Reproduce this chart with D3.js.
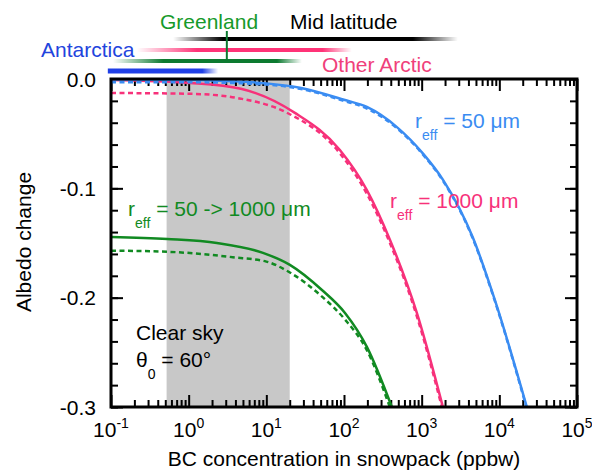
<!DOCTYPE html>
<html>
<head>
<meta charset="utf-8">
<script src="https://d3js.org/d3.v7.min.js"></script>
<style>
  body { margin: 0; background: #fff; }
  text { font-family: "Liberation Sans", Arial, sans-serif; }
</style>
</head>
<body>
<svg id="chart" width="592" height="472"></svg>
<script>

// BC concentration (ppbw) and albedo change
var blueSolidX  = [0.1, 1, 10, 27, 100, 197, 480, 1035, 1875, 4560, 8750, 22600];
var blueSolidY  = [-0.0005, -0.001, -0.004, -0.008, -0.019, -0.0256, -0.044, -0.068, -0.092, -0.145, -0.202, -0.3];
var blueDashX   = [0.1, 1, 10, 27, 100, 197, 480, 1035, 1875, 4560, 8750, 22300];
var blueDashY   = [-0.003, -0.003, -0.005, -0.009, -0.020, -0.027, -0.045, -0.069, -0.093, -0.146, -0.203, -0.3];

var pinkSolidX  = [0.1, 1.04, 4.7, 23.3, 88.5, 197, 390, 867, 1875];
var pinkSolidY  = [-0.001, -0.0037, -0.009, -0.031, -0.065, -0.1016, -0.147, -0.214, -0.3];
var pinkDashX   = [0.1, 1, 3.2, 4.7, 17.4, 88.5, 197, 390, 867, 1820];
var pinkDashY   = [-0.0128, -0.0135, -0.016, -0.018, -0.030, -0.068, -0.105, -0.150, -0.217, -0.3];

var greenSolidX = [0.1, 0.53, 2.31, 9.04, 20.1, 52, 103, 197, 413];
var greenSolidY = [-0.1445, -0.1464, -0.150, -0.159, -0.170, -0.193, -0.214, -0.245, -0.3];
var greenDashX  = [0.1, 0.53, 3.7, 10, 20.1, 52, 103, 197, 389];
var greenDashY  = [-0.157, -0.158, -0.163, -0.167, -0.177, -0.199, -0.220, -0.248, -0.3];

// shaded range (ppbw)
var shadeRange = [0.52, 20];

// regional ranges: [fade start, solid start, solid end, fade end] in ppbw
var regionNames  = ["Mid latitude", "Other Arctic", "Greenland", "Antarctica"];
var regionRanges = [[0.63, 2.75, 771, 2925], [0.216, 1.28, 53, 126], [0.106, 0.47, 13.7, 28.7], [0.091, 0.091, 1.5, 2.4]];
var greenlandMark = 3.1;

var xMajor = [0.1, 1, 10, 100, 1000, 10000, 100000];
var xExp   = ["-1", "0", "1", "2", "3", "4", "5"];
var yMajor = [0, -0.1, -0.2, -0.3];
var yLabels = ["0.0", "-0.1", "-0.2", "-0.3"];

var svg = d3.select("#chart");

var pl = 111, pr = 577, pt = 79, pb = 407;

var x = d3.scaleLog().domain([0.1, 1e5]).range([pl, pr]);
var y = d3.scaleLinear().domain([-0.3, 0]).range([pb, pt]);

var blue = "#3a8cf2", pink = "#f7317a", green = "#118a22";

// clip
var defs = svg.append("defs");
defs.append("clipPath").attr("id", "clip")
  .append("rect").attr("x", pl).attr("y", pt).attr("width", pr - pl).attr("height", pb - pt);

// Shaded band
svg.append("rect")
  .attr("x", x(shadeRange[0]))
  .attr("y", pt)
  .attr("width", x(shadeRange[1]) - x(shadeRange[0]))
  .attr("height", pb - pt)
  .style("fill", "#c8c8c8");

// Minor ticks
var xMinor = [];
for (var e = -1; e < 5; e++) {
  for (var k = 2; k <= 9; k++) xMinor.push(k * Math.pow(10, e));
}
var yMinor = d3.range(0, 16).map(function(i) { return -i * 0.02; });

function tickGroup(g) {
  g.select(".domain").remove();
  g.selectAll("line").style("stroke", "#000").style("stroke-width", 2);
}

svg.append("g").attr("transform", "translate(0," + pb + ")")
  .call(d3.axisBottom(x).tickValues(xMajor).tickSize(-12).tickFormat("")).call(tickGroup);
svg.append("g").attr("transform", "translate(0," + pb + ")")
  .call(d3.axisBottom(x).tickValues(xMinor).tickSize(-7).tickFormat("")).call(tickGroup);
svg.append("g").attr("transform", "translate(0," + pt + ")")
  .call(d3.axisTop(x).tickValues(xMajor).tickSize(-12).tickFormat("")).call(tickGroup);
svg.append("g").attr("transform", "translate(0," + pt + ")")
  .call(d3.axisTop(x).tickValues(xMinor).tickSize(-7).tickFormat("")).call(tickGroup);
svg.append("g").attr("transform", "translate(" + pl + ",0)")
  .call(d3.axisLeft(y).tickValues(yMajor).tickSize(-12).tickFormat("")).call(tickGroup);
svg.append("g").attr("transform", "translate(" + pl + ",0)")
  .call(d3.axisLeft(y).tickValues(yMinor).tickSize(-7).tickFormat("")).call(tickGroup);
svg.append("g").attr("transform", "translate(" + pr + ",0)")
  .call(d3.axisRight(y).tickValues(yMajor).tickSize(-12).tickFormat("")).call(tickGroup);
svg.append("g").attr("transform", "translate(" + pr + ",0)")
  .call(d3.axisRight(y).tickValues(yMinor).tickSize(-7).tickFormat("")).call(tickGroup);

// Curves
var line = d3.line()
  .x(function(d) { return x(d[0]); })
  .y(function(d) { return y(d[1]); })
  .curve(d3.curveMonotoneX);

function draw(xs, ys, col, dashed) {
  svg.append("path")
    .datum(d3.zip(xs, ys))
    .attr("d", line)
    .attr("clip-path", "url(#clip)")
    .style("fill", "none")
    .style("stroke", col)
    .style("stroke-width", 2.5)
    .style("stroke-dasharray", dashed ? "5,3.5" : null);
}
draw(greenDashX, greenDashY, green, true);
draw(greenSolidX, greenSolidY, green, false);
draw(pinkDashX, pinkDashY, pink, true);
draw(pinkSolidX, pinkSolidY, pink, false);
draw(blueDashX, blueDashY, blue, true);
draw(blueSolidX, blueSolidY, blue, false);

// Frame
svg.append("rect")
  .attr("x", pl).attr("y", pt)
  .attr("width", pr - pl).attr("height", pb - pt)
  .style("fill", "none").style("stroke", "#000").style("stroke-width", 3);

// X tick labels
var xl = svg.selectAll(".xlab").data(xMajor).enter().append("text")
  .attr("class", "xlab")
  .attr("x", function(d) { return x(d); })
  .attr("y", 437)
  .attr("text-anchor", "middle")
  .style("font-size", "21px");
xl.append("tspan").text("10");
xl.append("tspan").attr("dy", -9).style("font-size", "14px")
  .text(function(d, i) { return xExp[i]; });

// Y tick labels
svg.selectAll(".ylab").data(yMajor).enter().append("text")
  .attr("class", "ylab")
  .attr("x", 96)
  .attr("y", function(d) { return y(d) + 7.5; })
  .attr("text-anchor", "end")
  .style("font-size", "21px")
  .text(function(d, i) { return yLabels[i]; });

// Axis titles
svg.append("text")
  .attr("x", (pl + pr) / 2).attr("y", 466)
  .attr("text-anchor", "middle").style("font-size", "21px")
  .text("BC concentration in snowpack (ppbw)");
svg.append("text")
  .attr("transform", "translate(31,242) rotate(-90)")
  .attr("text-anchor", "middle").style("font-size", "21px")
  .text("Albedo change");

// Curve labels
function reffLabel(px, py, rest, col) {
  var t = svg.append("text").attr("x", px).attr("y", py)
    .style("font-size", "21px").style("fill", col);
  t.append("tspan").text("r");
  t.append("tspan").attr("dy", 12).style("font-size", "14px").text("eff");
  t.append("tspan").attr("dy", -12).text(" = " + rest);
}
reffLabel(415, 128, "50 μm", blue);
reffLabel(390, 208, "1000 μm", pink);
reffLabel(128, 216, "50 -> 1000 μm", green);

svg.append("text").attr("x", 136).attr("y", 340)
  .style("font-size", "21px").text("Clear sky");
var th = svg.append("text").attr("x", 136).attr("y", 367).style("font-size", "21px");
th.append("tspan").text("θ");
th.append("tspan").attr("dy", 12).style("font-size", "14px").text("0");
th.append("tspan").attr("dy", -12).text(" = 60°");

// Regional range bars
var barCols = ["#000000", "#ff3377", "#0c7a30", "#1f3fe6"];
var barY = [39, 50, 61, 71];
var barW = [4, 4, 4, 5];
regionRanges.forEach(function(r, i) {
  var x0 = x(r[0]), x3 = x(r[3]);
  var g = defs.append("linearGradient")
    .attr("id", "grad" + i)
    .attr("gradientUnits", "userSpaceOnUse")
    .attr("x1", x0).attr("x2", x3).attr("y1", 0).attr("y2", 0);
  var stops = [[0, 0], [(x(r[1]) - x0) / (x3 - x0), 1], [(x(r[2]) - x0) / (x3 - x0), 1], [1, 0]];
  if (i === 3) stops[0][1] = 1;
  stops.forEach(function(s) {
    g.append("stop").attr("offset", s[0]).attr("stop-color", barCols[i]).attr("stop-opacity", s[1]);
  });
  svg.append("line")
    .attr("x1", x0).attr("x2", x3)
    .attr("y1", barY[i]).attr("y2", barY[i])
    .style("stroke", "url(#grad" + i + ")")
    .style("stroke-width", barW[i]);
});
svg.append("line")
  .attr("x1", x(greenlandMark)).attr("x2", x(greenlandMark))
  .attr("y1", 31).attr("y2", 61)
  .style("stroke", "#0c7a30").style("stroke-width", 2);

// Region labels
svg.append("text").attr("x", 160).attr("y", 29).style("font-size", "21px")
  .style("fill", "#169a2a").text(regionNames[2]);
svg.append("text").attr("x", 290).attr("y", 29).style("font-size", "21px")
  .style("fill", "#000").text(regionNames[0]);
svg.append("text").attr("x", 41).attr("y", 57).style("font-size", "21px")
  .style("fill", "#2244dd").text(regionNames[3]);
svg.append("text").attr("x", 322).attr("y", 72).style("font-size", "21px")
  .style("fill", "#f0407a").text(regionNames[1]);

</script>
</body>
</html>
